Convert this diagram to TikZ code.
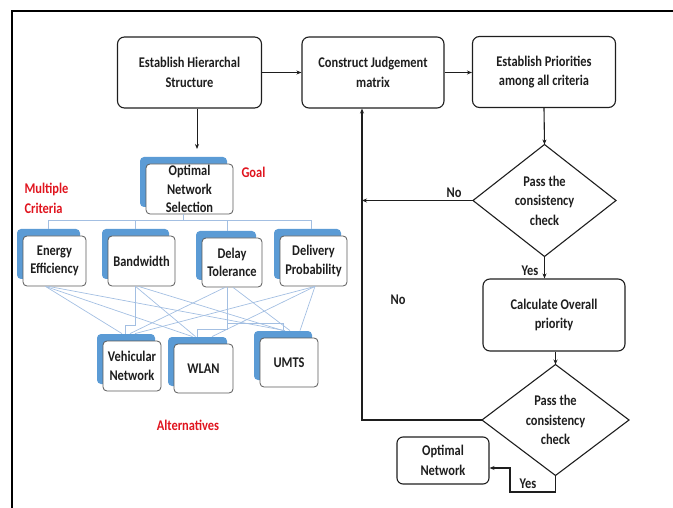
\documentclass[tikz,border=0pt]{standalone}
\usepackage{fontspec}
\setmainfont{Carlito}
\newfontfamily\narrowfont[FakeStretch=0.84]{Carlito}
\usetikzlibrary{shapes.geometric,arrows.meta,shadows}

\definecolor{ink}{HTML}{1E1E1E}
\definecolor{shadowblue}{HTML}{5B9BD5}
\definecolor{linkblue}{HTML}{A3BFE2}
\definecolor{labelred}{HTML}{E0141E}
\definecolor{boxgray}{HTML}{5A5A5A}

\tikzset{
  txt/.style={font=\narrowfont\fontsize{14.8}{19.5}\selectfont\bfseries, text=ink, align=center},
  flowbox/.style={txt, draw=ink, line width=1.1pt, rounded corners=7pt, inner sep=0pt},
  decision/.style={txt, diamond, draw=ink, line width=1.1pt, inner sep=0pt, outer sep=0pt},
  arr/.style={draw=ink, line width=1.1pt, -{Stealth[length=5pt,width=4pt]}},
  hbox/.style={font=\narrowfont\fontsize{14.8}{18.5}\selectfont\bfseries, text=ink, align=center,
    draw=boxgray, line width=0.8pt, fill=white, rounded corners=4pt, inner sep=0pt,
    general shadow={fill=shadowblue, shadow xshift=-6pt, shadow yshift=7pt}},
  link/.style={draw=linkblue, line width=0.7pt},
  redlabel/.style={font=\narrowfont\fontsize{14.8}{20}\selectfont\bfseries, text=labelred, align=left},
  flowlabel/.style={font=\narrowfont\fontsize{14.8}{15}\selectfont\bfseries, text=ink},
}

\begin{document}
\begin{tikzpicture}[x=1pt,y=-1pt]
  \useasboundingbox (0,0) rectangle (673,508);

  % frame
  \draw[line width=2.2pt, black] (12,508) -- (12,11) -- (673,11);

  % main flow
  \node[flowbox, minimum width=144pt, minimum height=71pt] (hs) at (189.5,72.5) {Establish Hierarchal\\Structure};
  \node[flowbox, minimum width=142pt, minimum height=71pt] (cj) at (373,72.5) {Construct Judgement\\matrix};
  \node[flowbox, minimum width=143pt, minimum height=71pt] (ep) at (544,72) {Establish Priorities\\among all criteria};
  \node[decision, minimum width=143pt, minimum height=112pt] (d1) at (544.5,200.5) {Pass the\\consistency\\check};
  \node[flowbox, minimum width=142pt, minimum height=72pt] (co) at (554,315) {Calculate Overall\\priority};
  \node[decision, minimum width=147pt, minimum height=111pt] (d2) at (555.5,420) {Pass the\\consistency\\check};
  \node[flowbox, rounded corners=6pt, minimum width=92pt, minimum height=47pt] (on) at (443,460.5) {Optimal\\Network};

  \draw[arr] (hs.east) -- (cj.west);
  \draw[arr] (cj.east) -- (cj.east -| ep.west);
  \draw[arr] (ep.south) -- (d1.north);
  \draw[arr] (d1.south) -- (co.north -| d1.south);
  \draw[arr] (co.south -| d2.north) -- (d2.north);

  % loop back to the judgement matrix
  \coordinate (loop) at (362,420);
  \draw[arr] (d2.west) -- (loop) -- (loop |- cj.south);
  \draw[arr] (d1.west) -- (d1.west -| loop);

  % exit to the optimal network
  \coordinate (ydown) at (510,492);
  \coordinate (yup) at (510,468);
  \draw[arr] (d2.south) |- (ydown) -- (yup) -- (yup -| on.east);

  \node[flowlabel] (no1) at (454,193) {No};
  \node[flowlabel] (yes1) at (530,271) {Yes};
  \node[flowlabel] (no2) at (398,300) {No};
  \node[flowlabel] (yes2) at (528,484) {Yes};

  % hierarchy: goal, criteria, alternatives
  \node[hbox, minimum width=87pt, minimum height=50pt] (goal) at (189.5,189) {Optimal\\Network\\Selection};
  \coordinate (goaltop) at (197,149);
  \draw[arr, line width=0.9pt] (hs.south -| goaltop) -- (goaltop);

  \node[hbox, minimum width=63pt, minimum height=50pt] (ee) at (54.5,261) {Energy\\Efficiency};
  \node[hbox, minimum width=67pt, minimum height=50pt] (bw) at (141.5,261) {Bandwidth};
  \node[hbox, minimum width=60pt, minimum height=49pt] (dt) at (232,262.5) {Delay\\Tolerance};
  \node[hbox, minimum width=67pt, minimum height=50pt] (dp) at (313.5,261) {Delivery\\Probability};

  \node[hbox, minimum width=58pt, minimum height=50pt] (vn) at (132,366) {Vehicular\\Network};
  \node[hbox, minimum width=59pt, minimum height=49pt] (wl) at (203.5,368.5) {WLAN};
  \node[hbox, minimum width=58pt, minimum height=49pt] (um) at (289,362.5) {UMTS};

  % goal to criteria
  \coordinate (tree) at (183,220);
  \draw[link] ([xshift=-6.5pt]goal.south) -- (tree);
  \draw[link] (tree) -| ([xshift=-6pt,yshift=7pt]ee.north);
  \draw[link] (tree) -| ([xshift=-6pt,yshift=7pt]bw.north);
  \draw[link] (tree) -| ([xshift=-5pt,yshift=7pt]dt.north);
  \draw[link] (tree) -| ([xshift=-2pt,yshift=7pt]dp.north);

  % criteria to alternatives
  \draw[link] ([xshift=-9pt]ee.south) -- ([xshift=-10pt,yshift=7pt]vn.north);
  \draw[link] ([xshift=-9pt]ee.south) -- ([xshift=-11pt,yshift=7pt]wl.north);
  \draw[link] ([xshift=-6pt]ee.south) -- ([xshift=-4pt,yshift=7pt]um.north);

  \draw[link] ([xshift=-6pt]bw.south) |- (125,325) -- ([xshift=-7pt,yshift=7pt]vn.north);
  \draw[link] ([xshift=-6pt]bw.south) -- ([xshift=-8pt,yshift=7pt]wl.north);
  \draw[link] ([xshift=-3pt]bw.south) -- ([xshift=-6pt,yshift=7pt]um.north);

  \draw[link] ([xshift=-5pt]dt.south) |- (197,329) -- ([xshift=-6.5pt,yshift=7pt]wl.north);
  \draw[link] (227,323) -| ([xshift=-6pt,yshift=7pt]um.north);
  \draw[link] ([xshift=-7pt]dt.south) -- ([xshift=-2pt,yshift=7pt]vn.north);
  \draw[link] ([xshift=1pt]dt.south) -- ([xshift=1pt,yshift=7pt]um.north);

  \draw[link] ([xshift=1.5pt]dp.south) -- ([xshift=3pt,yshift=7pt]vn.north);
  \draw[link] ([xshift=1.5pt]dp.south) -- ([xshift=8.5pt,yshift=7pt]wl.north);
  \draw[link] ([xshift=1.5pt]dp.south) -- ([xshift=11pt,yshift=7pt]um.north);

  % level captions
  \node[redlabel, anchor=west] (goallbl) at (238,172) {Goal};
  \node[redlabel, anchor=west] (critlbl) at (21,198) {Multiple\\Criteria};
  \node[redlabel] (altlbl) at (188,425) {Alternatives};
\end{tikzpicture}
\end{document}
